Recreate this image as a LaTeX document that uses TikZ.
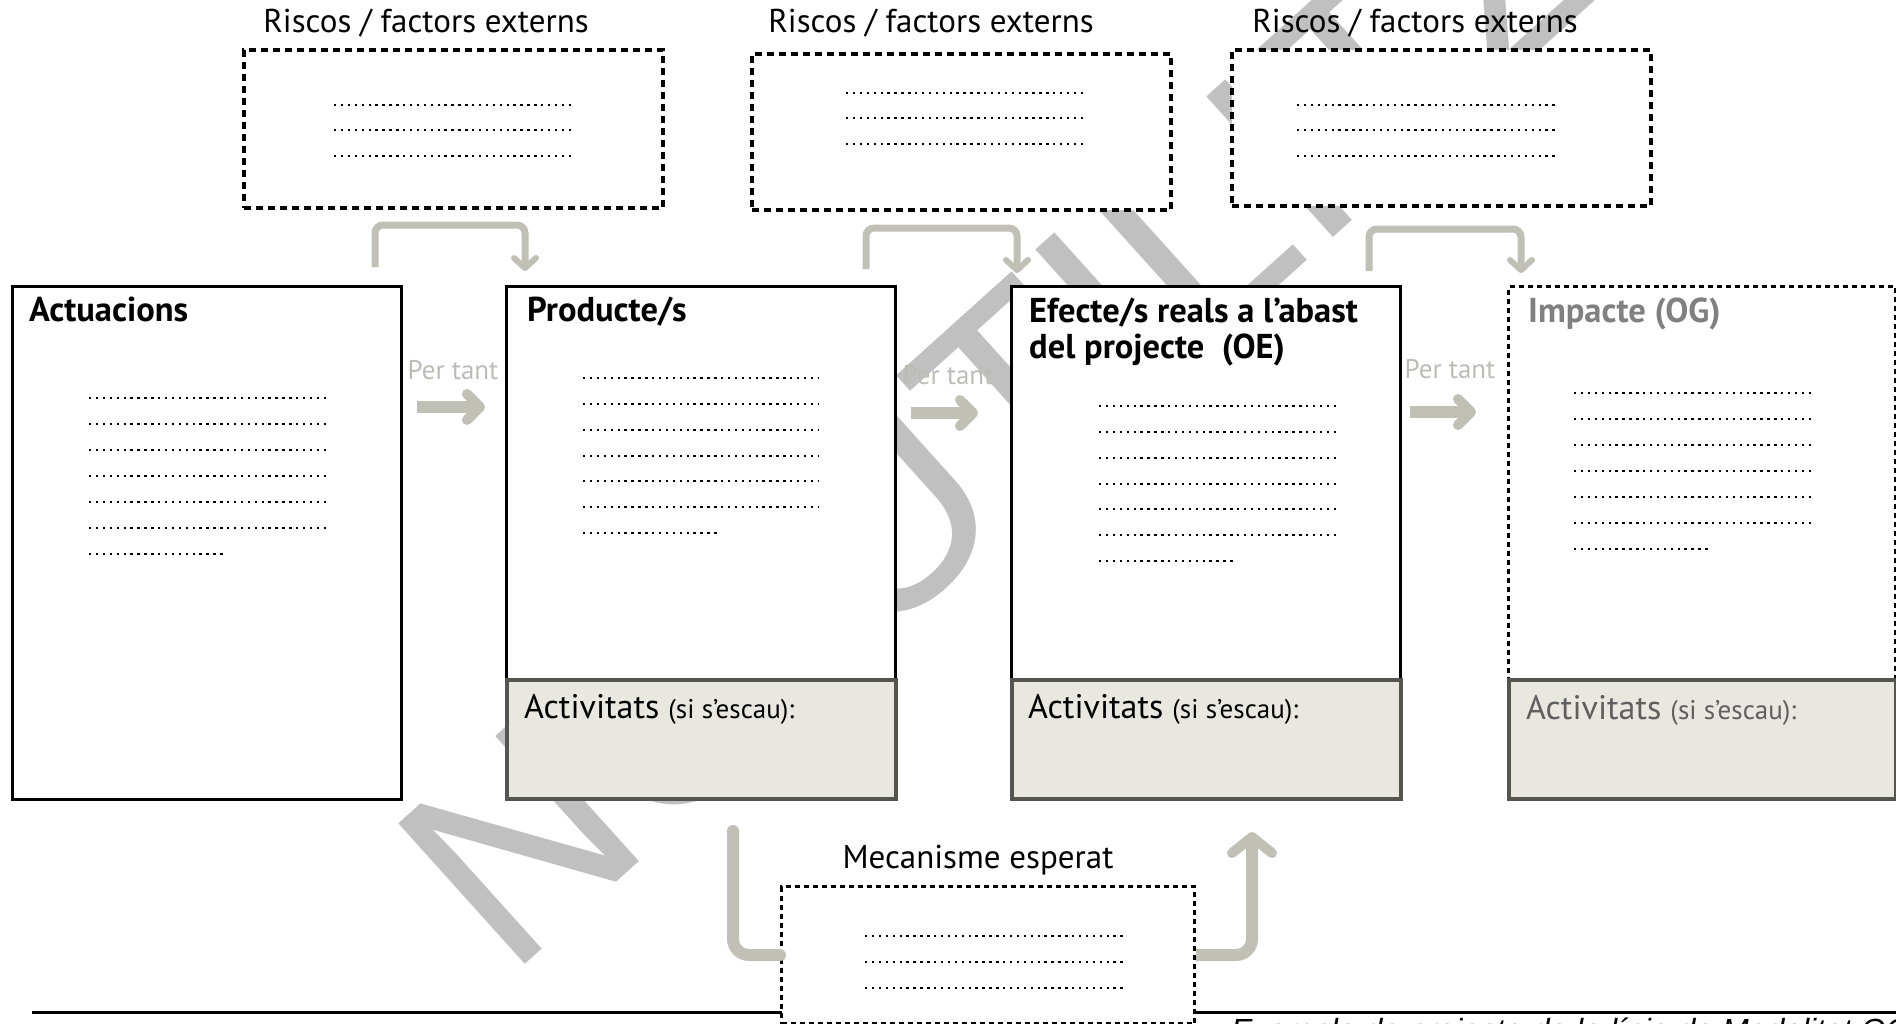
\documentclass[tikz,border=0pt]{standalone}
\usepackage{fontspec}
\setmainfont{PT Sans}
\newfontfamily\wmfont{Liberation Sans}
\usetikzlibrary{arrows.meta}
\definecolor{arrowgray}{RGB}{192,192,182}
\definecolor{ptgray}{RGB}{188,188,182}
\definecolor{actfill}{RGB}{232,232,225}
\definecolor{actborder}{RGB}{85,85,80}
\definecolor{wmgray}{RGB}{192,192,192}
\definecolor{impgray}{RGB}{128,128,128}
\definecolor{impact}{RGB}{95,95,95}
\begin{document}
\begin{tikzpicture}[x=1pt,y=-1pt,
  riskbox/.style={draw=black, line width=4pt, dash pattern=on 7pt off 5pt, fill=white, inner sep=0pt, anchor=north west},
  mainbox/.style={draw=black, line width=3pt, fill=white, inner sep=0pt, anchor=north west},
  actbox/.style={draw=actborder, line width=3.5pt, fill=actfill, inner sep=0pt, anchor=north west},
  dashbox/.style={draw=black, line width=3pt, dash pattern=on 5pt off 4pt, fill=white, inner sep=0pt, anchor=north west},
  dotline/.style={line width=2.4pt, dash pattern=on 2.4pt off 4.5pt},
  lbl/.style={font=\fontsize{33}{40}\selectfont, inner sep=0pt, anchor=base},
  ttl/.style={font=\bfseries\fontsize{34.5}{40}\selectfont, inner sep=0pt, anchor=base west},
  actlbl/.style={inner sep=0pt, anchor=base west},
  pertant/.style={text=ptgray, font=\fontsize{27}{32}\selectfont, inner sep=0pt, anchor=base},
  bigarrow/.style={draw=arrowgray, line width=12pt, -{Straight Barb[length=13pt,width=26pt,line width=10pt,round]}},
  brk/.style={draw=arrowgray, line width=7pt, rounded corners=8pt, -{Straight Barb[length=10pt,width=22pt,line width=6pt,round]}},
  mech/.style={draw=arrowgray, line width=12pt, rounded corners=16pt},
  wm/.style={text=wmgray, font=\wmfont\fontsize{275}{300}\selectfont, inner sep=0pt, anchor=base west, rotate=42}
]
\useasboundingbox (0,0) rectangle (1896,1023);

% watermark
\node[wm] (wmark) at (508,980) {NO UTILITZAR};

% bottom rule
\coordinate (rl) at (32,1012);
\coordinate (rr) at (1896,1012);
\draw[line width=3pt] (rl) -- (rr);

% risk boxes
\node[riskbox, minimum width=419pt, minimum height=158pt] (r1) at (242,48) {};
\node[riskbox, minimum width=419pt, minimum height=156pt] (r2) at (750,52) {};
\node[riskbox, minimum width=419pt, minimum height=156pt] (r3) at (1230,48) {};
\node[lbl] (r1l) at (426,32) {Riscos / factors externs};
\node[lbl] (r2l) at (931,32) {Riscos / factors externs};
\node[lbl] (r3l) at (1415,32) {Riscos / factors externs};
\foreach \y in {105,130,156} \draw[dotline] (334,\y) -- (571,\y);
\foreach \y in {93,118,144} \draw[dotline] (846,\y) -- (1083,\y);
\foreach \y in {105,130,156} \draw[dotline] (1297,\y) -- (1559,\y);

% main boxes
\node[mainbox, minimum width=389pt, minimum height=513pt] (act) at (11,285) {};
\node[mainbox, minimum width=389pt, minimum height=393pt] (prod) at (505,285) {};
\node[actbox, minimum width=389pt, minimum height=119pt] (proda) at (505,678) {};
\node[mainbox, minimum width=389pt, minimum height=393pt] (eff) at (1010,285) {};
\node[actbox, minimum width=389pt, minimum height=119pt] (effa) at (1010,678) {};
\node[dashbox, minimum width=387pt, minimum height=393pt] (imp) at (1507,285) {};
\node[actbox, minimum width=387pt, minimum height=119pt] (impa) at (1507,678) {};

\node[ttl] (actt) at (29,321) {Actuacions};
\node[ttl] (prodt) at (527,321) {Producte/s};
\node[ttl] (efft1) at (1029,322) {Efecte/s reals a l’abast};
\node[ttl] (efft2) at (1029,358) {del projecte\ \ (OE)};
\node[ttl, text=impgray] (impt) at (1528,322) {Impacte (OG)};

\node[actlbl] (proda1) at (524,718) {\fontsize{34}{40}\selectfont Activitats \fontsize{27}{32}\selectfont(si s’escau):};
\node[actlbl] (effa1) at (1028,718) {\fontsize{34}{40}\selectfont Activitats \fontsize{27}{32}\selectfont(si s’escau):};
\node[actlbl, text=impact] (impa1) at (1526,719) {\fontsize{34}{40}\selectfont Activitats \fontsize{27}{32}\selectfont(si s’escau):};

\foreach \y in {398,424,450,476,502,528} \draw[dotline] (89,\y) -- (326,\y);
\draw[dotline] (89,554) -- (226,554);
\foreach \y in {378,404,430,456,481,507} \draw[dotline] (583,\y) -- (819,\y);
\draw[dotline] (583,533) -- (718,533);
\foreach \y in {406,432,458,484,509,535} \draw[dotline] (1099,\y) -- (1337,\y);
\draw[dotline] (1099,561) -- (1236,561);
\foreach \y in {393,419,445,471,497,523} \draw[dotline] (1574,\y) -- (1811,\y);
\draw[dotline] (1574,549) -- (1711,549);

% per tant arrows
\node[pertant] (pt1) at (453,379) {Per tant};
\node[pertant] (pt2) at (948,384) {Per tant};
\node[pertant] (pt3) at (1450,378) {Per tant};
\coordinate (a1s) at (417,407); \coordinate (a1e) at (485,407);
\coordinate (a2s) at (911,413); \coordinate (a2e) at (978,413);
\coordinate (a3s) at (1410,412); \coordinate (a3e) at (1476,412);
\draw[bigarrow] (a1s) -- (a1e);
\draw[bigarrow] (a2s) -- (a2e);
\draw[bigarrow] (a3s) -- (a3e);

% brackets
\coordinate (b1s) at (375,267); \coordinate (b1e) at (525,271);
\coordinate (b2s) at (866,269); \coordinate (b2e) at (1017,273);
\coordinate (b3s) at (1369,271); \coordinate (b3e) at (1521,273);
\draw[brk] (b1s) -- (375,225) -- (525,225) -- (b1e);
\draw[brk] (b2s) -- (866,228) -- (1017,228) -- (b2e);
\draw[brk] (b3s) -- (1369,229) -- (1521,229) -- (b3e);

% mecanisme
\node[dashbox, minimum width=413pt, minimum height=137pt] (mbox) at (780,885) {};
\node[lbl] (mlbl) at (978,868) {Mecanisme esperat};
\foreach \y in {936,962,988} \draw[dotline] (865,\y) -- (1127,\y);
\coordinate (m1) at (733,831);
\coordinate (m2) at (1252,832);
\draw[mech, line cap=round] (m1) |- (mbox.west);
\draw[mech, -{Straight Barb[length=16pt,width=40pt,line width=10pt,round]}] (mbox.east) -| (m2);

% footer
\node[inner sep=0pt, anchor=base west, font=\wmfont\itshape\fontsize{32}{38}\selectfont] (foot) at (1231,1041) {Exemple de projecte de la línia de Modalitat OC};
\end{tikzpicture}
\end{document}
